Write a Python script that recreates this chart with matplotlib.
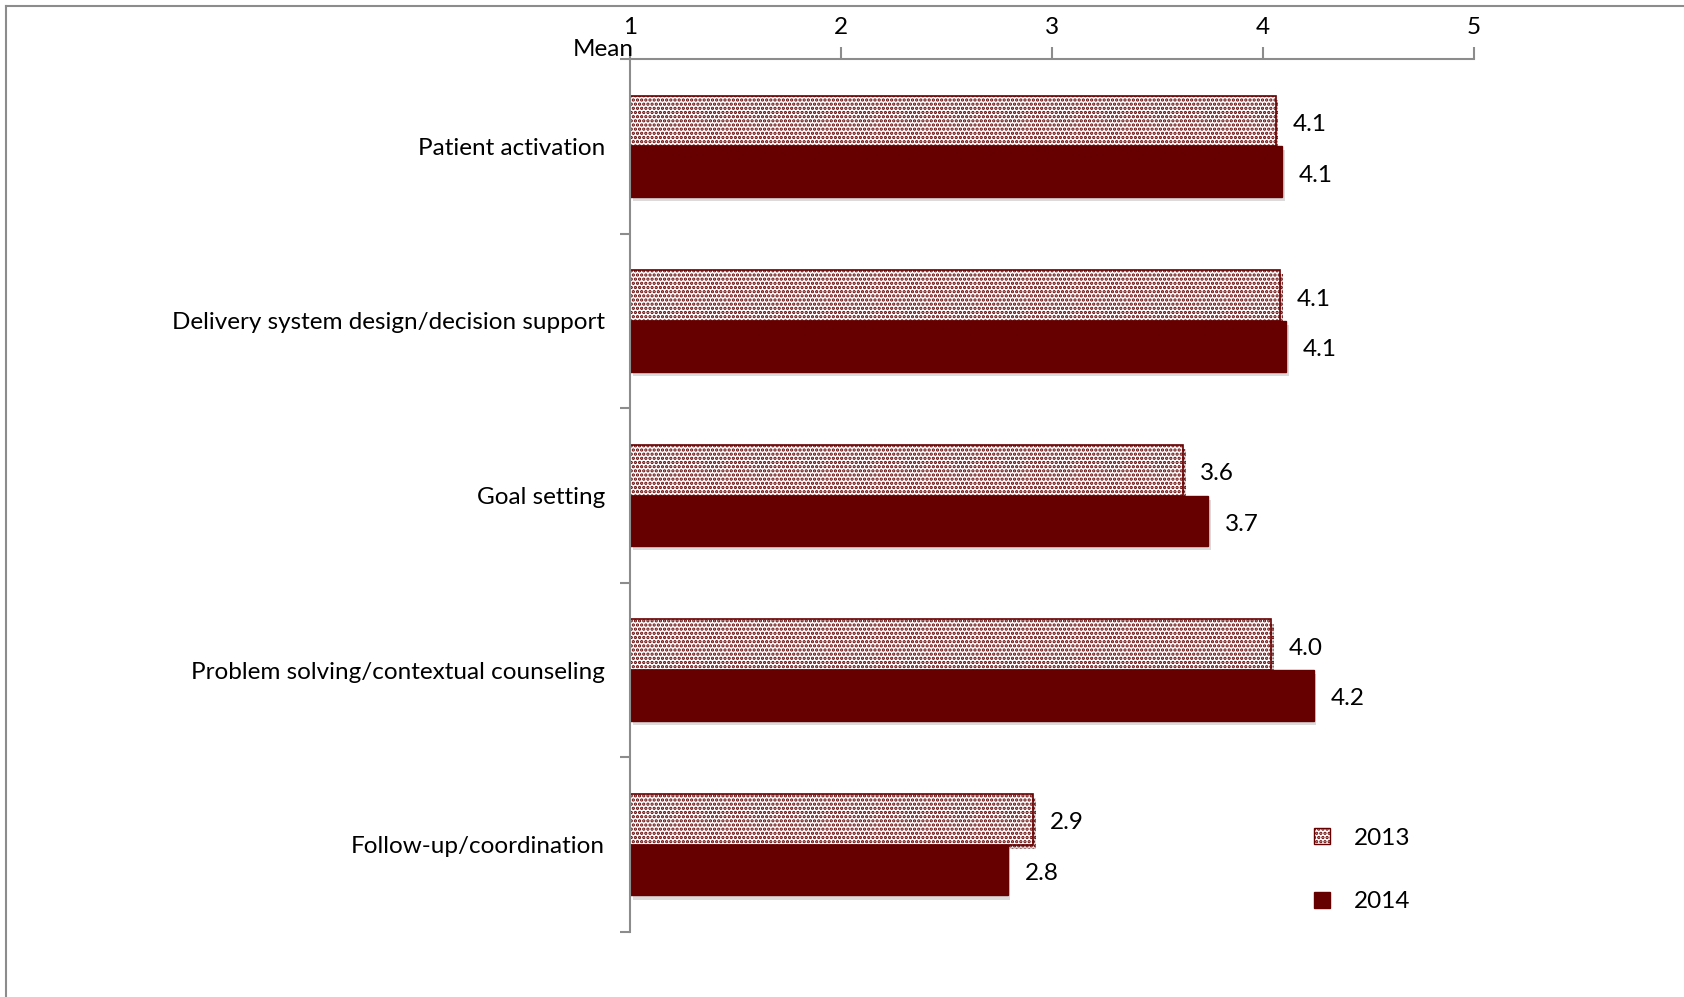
import numpy as np
import matplotlib.pyplot as plt
from matplotlib.patches import Patch
from matplotlib.lines import Line2D
import matplotlib.patheffects as pe

plt.rcParams['font.family'] = ['Lato', 'DejaVu Sans']
plt.rcParams['hatch.linewidth'] = 1.6

categories = ["Patient activation",
              "Delivery system design/decision support",
              "Goal setting",
              "Problem solving/contextual counseling",
              "Follow-up/coordination"]
mean_2013 = [4.06, 4.08, 3.62, 4.04, 2.91]
mean_2014 = [4.09, 4.11, 3.74, 4.24, 2.79]
x_ticks = [1, 2, 3, 4, 5]

red = '#660000'
axis_grey = '#8c8c8c'
fs = 17.5

fig = plt.figure(figsize=(16.84, 9.97), dpi=100)
ax = fig.add_axes([630 / 1684, 1 - 932 / 997, (1474 - 630) / 1684, (932 - 59) / 997])

y = np.arange(len(categories))
h = 0.29
shadow = [pe.SimplePatchShadow(offset=(2, -3), shadow_rgbFace='#999999', alpha=0.35), pe.Normal()]

bars13 = ax.barh(y - h / 2, np.array(mean_2013) - 1, left=1, height=h,
                 color='white', edgecolor=red, hatch='....', linewidth=1.2, label='2013')
bars14 = ax.barh(y + h / 2, np.array(mean_2014) - 1, left=1, height=h,
                 color=red, edgecolor=red, linewidth=1, label='2014')
for b in list(bars13) + list(bars14):
    b.set_path_effects(shadow)

for yi, v in zip(y, mean_2013):
    ax.text(v + 0.08, yi - h / 2 + 0.02, f"{v:.1f}", va='center', ha='left', fontsize=fs)
for yi, v in zip(y, mean_2014):
    ax.text(v + 0.08, yi + h / 2 + 0.02, f"{v:.1f}", va='center', ha='left', fontsize=fs)

ax.set_xlim(1, 5)
ax.set_ylim(len(categories) - 0.5, -0.5)
ax.xaxis.tick_top()
ax.set_xticks(x_ticks)
ax.set_xticklabels([str(t) for t in x_ticks], fontsize=fs)
ax.tick_params(axis='x', direction='out', length=9, width=1.5, color=axis_grey, pad=6)

ax.set_yticks(y)
ax.set_yticklabels(categories, fontsize=fs)
ax.set_yticks(np.arange(-0.5, len(categories)), minor=True)
ax.tick_params(axis='y', which='major', length=0, pad=18)
ax.tick_params(axis='y', which='minor', direction='out', length=7, width=1.5, color=axis_grey)

for s in ['right', 'bottom']:
    ax.spines[s].set_visible(False)
for s in ['top', 'left']:
    ax.spines[s].set_color(axis_grey)
    ax.spines[s].set_linewidth(1.5)

fig.text(634 / 1684, 1 - 50 / 997, "Mean", ha='right', va='center', fontsize=fs)

# chart border
fig.add_artist(Line2D([6 / 1684, 1], [1 - 6 / 997] * 2, transform=fig.transFigure, color=axis_grey, lw=1.5))
fig.add_artist(Line2D([6 / 1684] * 2, [0, 1 - 6 / 997], transform=fig.transFigure, color=axis_grey, lw=1.5))

handles = [Patch(facecolor='white', edgecolor=red, hatch='....', label='2013'),
           Patch(facecolor=red, edgecolor=red, label='2014')]
fig.legend(handles=handles, loc='upper left', bbox_to_anchor=(1292 / 1684, 1 - 806 / 997),
           frameon=False, fontsize=fs, handlelength=0.65, handleheight=0.65,
           handletextpad=1.0, labelspacing=1.75)

fig.savefig('out.png', dpi=100)
